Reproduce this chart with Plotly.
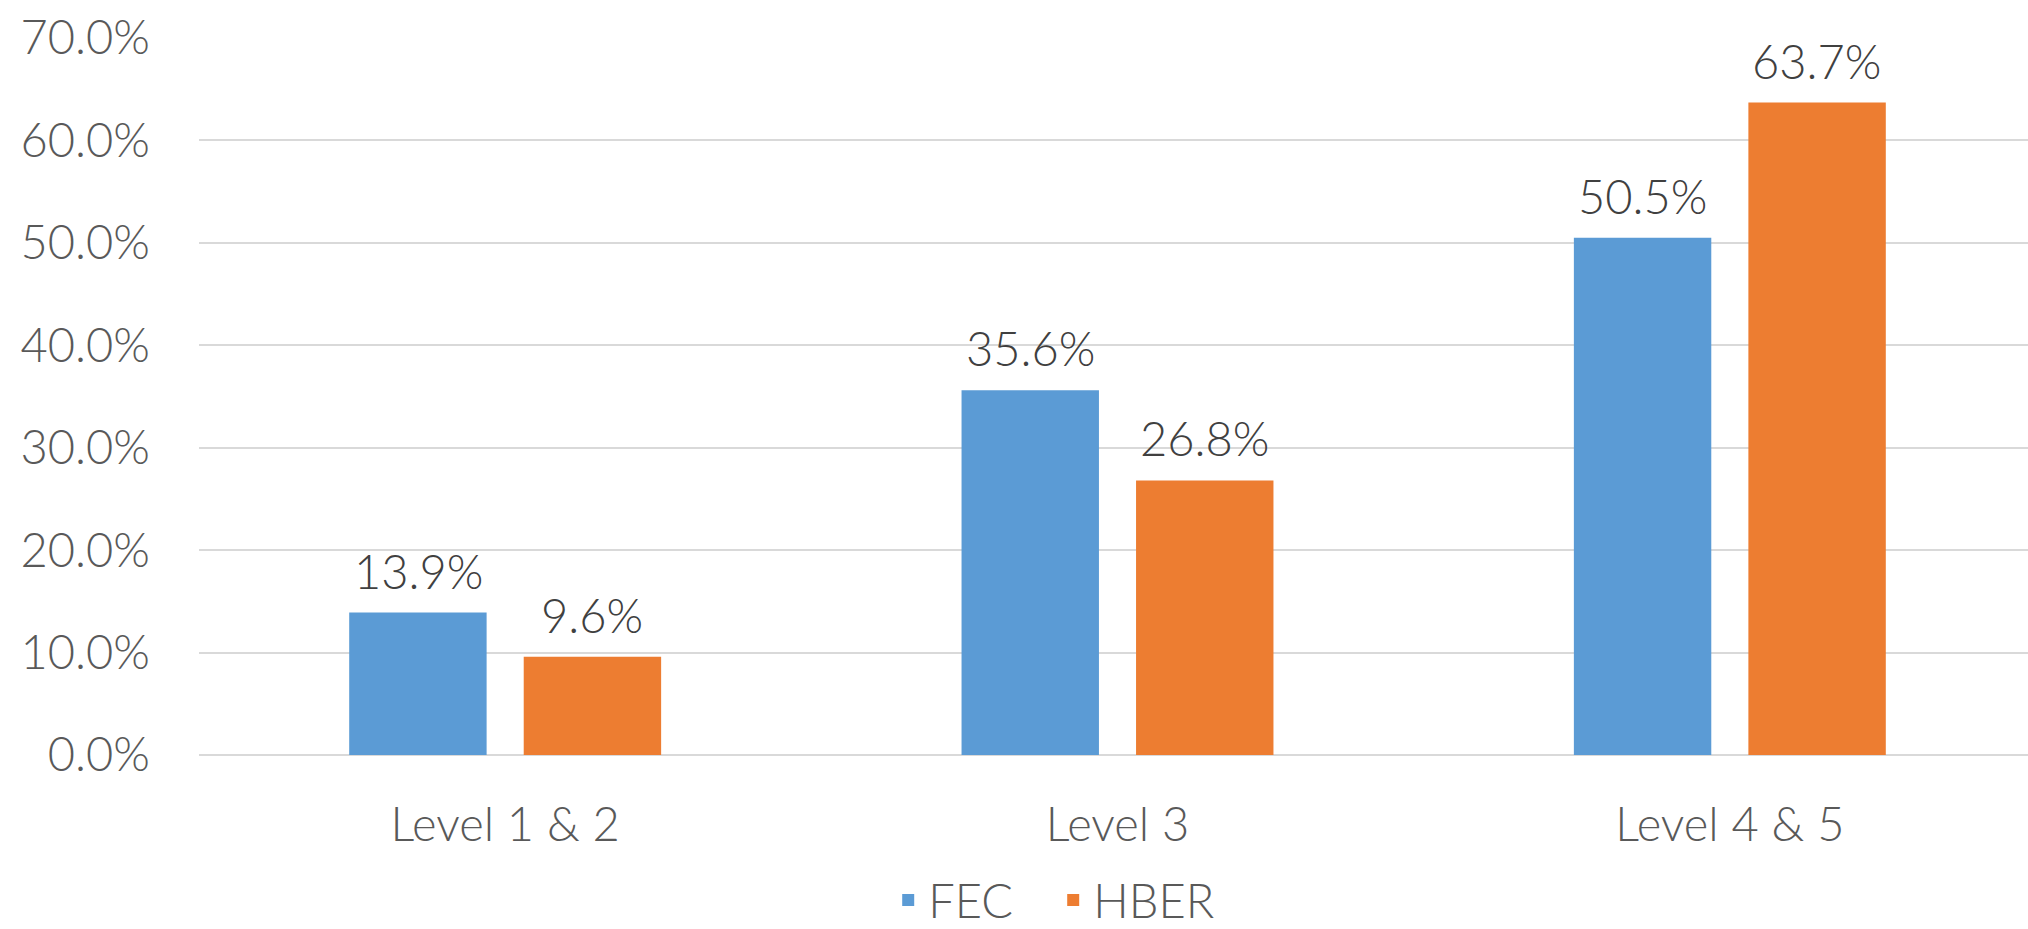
import plotly.graph_objects as go

categories = ["Level 1 & 2", "Level 3", "Level 4 & 5"]
fec = [0.139, 0.356, 0.505]
hber = [0.096, 0.268, 0.637]
series_names = ["FEC", "HBER"]
colors = ["#5B9BD5", "#ED7D31"]

FONT = "Lato"
W = 300
fig = go.Figure()
for name, vals, col in zip(series_names, [fec, hber], colors):
    fig.add_trace(go.Bar(
        name=name, x=categories, y=vals,
        marker=dict(color=col, line=dict(width=0)),
        hoverinfo="skip",
    ))

# data labels
annotations = []
for vals, shift in zip([fec, hber], [-87, 87]):
    for c, v in zip(categories, vals):
        annotations.append(dict(
            x=c, y=v, xref="x", yref="y", text=f"{v*100:.1f}%",
            showarrow=False, xshift=shift, yshift=12, yanchor="bottom",
            font=dict(family=FONT, size=47, color="#404040", weight=W),
        ))

fig.update_layout(
    width=2036, height=929,
    margin=dict(l=199, r=0, t=38, b=174, autoexpand=False),
    plot_bgcolor="white", paper_bgcolor="white",
    barmode="group", bargap=0.43, bargroupgap=0.2126,
    font=dict(family=FONT, size=47, color="#595959", weight=W),
    annotations=annotations,
    legend=dict(orientation="h", x=0.465, xanchor="center", y=-0.203, yanchor="middle",
                font=dict(family=FONT, size=47, color="#595959", weight=W),
                entrywidth=120, traceorder="normal"),
    xaxis=dict(showgrid=False, showline=False, zeroline=False, ticks="",
               automargin=False, ticklabelstandoff=38,
               tickfont=dict(family=FONT, size=47, color="#595959", weight=W)),
    yaxis=dict(range=[0, 0.7], dtick=0.1, tickformat=".1%",
               showgrid=True, gridcolor="#D9D9D9", gridwidth=2,
               zeroline=True, zerolinecolor="#D9D9D9", zerolinewidth=2,
               automargin=False,
               showline=False, ticks="", ticklabelstandoff=48,
               tickfont=dict(family=FONT, size=47, color="#595959", weight=W)),
)

fig.write_html("out.html", config={"displayModeBar": False},
               post_script="document.body.style.margin='0';document.body.style.overflow='hidden';")
